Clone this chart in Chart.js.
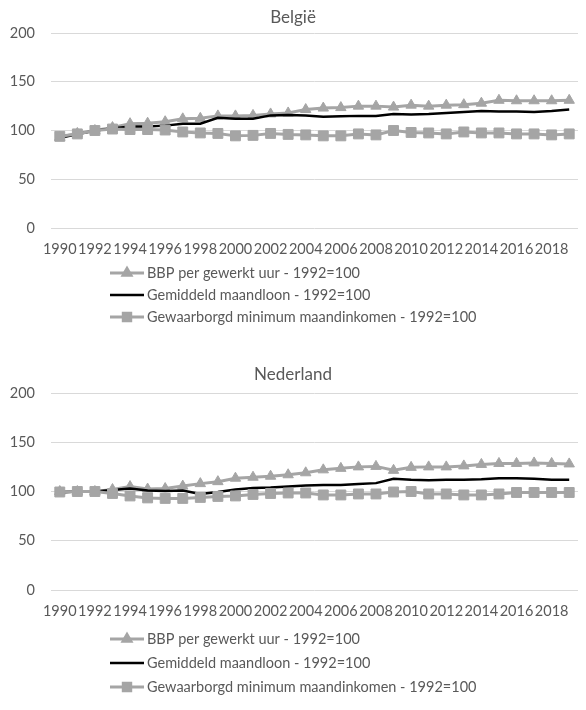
<!DOCTYPE html>
<html>
<head>
<meta charset="utf-8">
<script src="https://cdn.jsdelivr.net/npm/chart.js@4.4.1/dist/chart.umd.min.js"></script>
<style>
  html, body { margin: 0; padding: 0; background: #fff; }
  .box { position: relative; width: 586px; height: 355px; }
</style>
</head>
<body>
<div class="box"><canvas id="chartBE"></canvas></div>
<div class="box"><canvas id="chartNL"></canvas></div>
<script>
// years on the category axis, every other one gets a label
const years = [];
for (let y = 1990; y <= 2019; y++) years.push(String(y));

const seriesNames = [
  'BBP per gewerkt uur - 1992=100',
  'Gemiddeld maandloon - 1992=100',
  'Gewaarborgd minimum maandinkomen - 1992=100'
];

// België
const beBbp  = [93, 97, 100, 103, 107, 107.5, 109, 112, 112.5, 115, 115, 115.5, 117, 118, 121.5, 123, 123.5, 125, 125, 124, 126, 125, 126, 126.5, 128, 131, 130.5, 130.5, 130.5, 131];
const beLoon = [92.5, 96, 100, 102, 104, 104, 105, 107, 107, 113, 112, 112, 115.5, 116, 115.5, 114, 114.5, 115, 115, 117, 116.5, 117, 118, 119, 120, 119.5, 119.5, 119, 120, 121.5];
const beMin  = [94, 96.5, 100, 101.5, 101, 101, 100.5, 98.5, 97.5, 97, 94.5, 95, 97, 96, 95.5, 94.5, 94.5, 96.5, 95.5, 100, 98, 97.5, 96.5, 98.5, 97.5, 97.5, 96.5, 96.5, 95.5, 96.5];

// Nederland
const nlBbp  = [100, 100, 100, 102, 105, 102.5, 103, 105.5, 108, 110, 113.5, 114.5, 115.5, 117, 119, 122, 123.5, 125, 125.5, 121.5, 124.5, 125, 125, 126, 127.5, 128.5, 128.5, 129, 128.5, 128];
const nlLoon = [99, 100, 100, 101.5, 103, 101, 100.5, 101, 97.5, 99.5, 102, 103.5, 104, 105, 106, 106.5, 106.5, 107.5, 108.5, 113, 112, 111.5, 112, 112, 112.5, 113.5, 113.5, 113, 112, 112];
const nlMin  = [99.5, 100, 100, 98, 95.5, 93.5, 93, 93, 94, 95, 95.5, 97, 98, 98.5, 98.5, 96.5, 96.5, 97.5, 97.5, 99.5, 100, 97.5, 97.5, 96.5, 96.5, 97.5, 99, 99, 99, 99];

const yTicks = [0, 50, 100, 150, 200];

const GRAY = '#a5a5a5';
const TEXT = '#595959';
const FONT = 'Lato, "Open Sans", sans-serif';

// Excel-like legend: one item per row, line with marker in the middle
const rowLegend = {
  id: 'rowLegend',
  afterDraw(chart, args, opts) {
    const ctx = chart.ctx;
    const items = chart.data.datasets;
    ctx.save();
    ctx.font = `14.5px ${FONT}`;
    const widest = Math.max(...items.map(d => ctx.measureText(d.label).width));
    const total = 34 + 3 + widest;
    const x0 = Math.round((chart.width - total) / 2);
    items.forEach((d, i) => {
      const y = opts.rows[i];
      ctx.strokeStyle = d.borderColor;
      ctx.lineWidth = d.borderWidth;
      ctx.beginPath();
      ctx.moveTo(x0, y);
      ctx.lineTo(x0 + 34, y);
      ctx.stroke();
      if (d.pointStyle && d.pointRadius > 0) {
        ctx.fillStyle = d.pointBackgroundColor;
        ctx.strokeStyle = d.pointBorderColor;
        Chart.helpers.drawPoint(ctx, {
          pointStyle: d.pointStyle, radius: d.pointRadius * 0.75, rotation: 0, borderWidth: 1
        }, x0 + 17, y);
      }
      ctx.fillStyle = TEXT;
      ctx.textAlign = 'left';
      ctx.textBaseline = 'middle';
      ctx.fillText(d.label, x0 + 37, y);
    });
    ctx.restore();
  }
};

function makeChart(canvasId, title, bbp, loon, min, geom) {
  const ctx = document.getElementById(canvasId).getContext('2d');
  return new Chart(ctx, {
    type: 'line',
    data: {
      labels: years,
      datasets: [
        {
          label: seriesNames[0],
          data: bbp,
          borderColor: GRAY,
          borderWidth: 3,
          pointStyle: 'triangle',
          pointRadius: 6,
          pointBackgroundColor: GRAY,
          pointBorderColor: GRAY,
          pointBorderWidth: 1,
          tension: 0,
          order: 2
        },
        {
          label: seriesNames[1],
          data: loon,
          borderColor: '#000000',
          borderWidth: 2.5,
          pointRadius: 0,
          tension: 0,
          order: 1
        },
        {
          label: seriesNames[2],
          data: min,
          borderColor: GRAY,
          borderWidth: 3,
          pointStyle: 'rect',
          pointRadius: 7,
          pointBackgroundColor: GRAY,
          pointBorderColor: GRAY,
          pointBorderWidth: 1,
          tension: 0,
          order: 0
        }
      ]
    },
    options: {
      responsive: true,
      maintainAspectRatio: false,
      animation: false,
      layout: { padding: { top: 0, left: 0, right: 0, bottom: geom.padBottom } },
      plugins: {
        legend: { display: false },
        tooltip: { enabled: false },
        title: {
          display: true,
          text: title,
          color: TEXT,
          font: { family: FONT, size: 17, weight: 'normal', lineHeight: 1.2 },
          padding: { top: geom.titleTop, bottom: geom.titleBottom }
        },
        rowLegend: { rows: geom.rows }
      },
      scales: {
        x: {
          offset: true,
          grid: { display: false, drawTicks: false },
          border: { display: false },
          ticks: {
            color: TEXT,
            font: { family: FONT, size: 14.5 },
            autoSkip: false,
            maxRotation: 0,
            minRotation: 0,
            padding: 13,
            callback: (v, i) => (i % 2 === 0 ? years[i] : '')
          },
          afterFit: s => { s.height = 30; }
        },
        y: {
          min: 0,
          max: 200,
          afterBuildTicks: s => { s.ticks = yTicks.map(v => ({ value: v })); },
          grid: { color: '#d9d9d9', lineWidth: 1, drawTicks: false },
          border: { display: false },
          ticks: { color: TEXT, font: { family: FONT, size: 14.5 }, padding: 16 },
          afterFit: s => { s.width = 51; }
        }
      }
    },
    plugins: [rowLegend]
  });
}

makeChart('chartBE', 'België', beBbp, beLoon, beMin,
  { titleTop: 7, titleBottom: 5.6, padBottom: 97, rows: [273, 295, 317] });
makeChart('chartNL', 'Nederland', nlBbp, nlLoon, nlMin,
  { titleTop: 9, titleBottom: 8.6, padBottom: 90, rows: [284, 308, 332] });
</script>
</body>
</html>
